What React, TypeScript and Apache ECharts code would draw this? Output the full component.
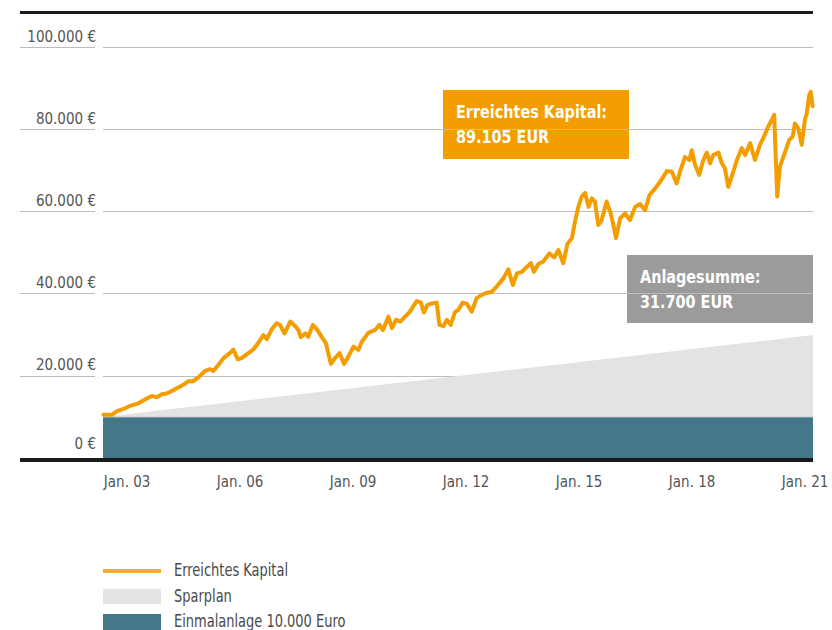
import React, { useEffect, useRef } from "react";
import * as echarts from "echarts";

const FONT = '"DejaVu Sans Condensed", "DejaVu Sans", sans-serif';

const startYear = 2002.36;
const endYear = 2021.21;
const tickYears = [2003, 2006, 2009, 2012, 2015, 2018, 2021];

const kapitalDates = [
  2002.37, 2002.59, 2002.73, 2002.95, 2003.08, 2003.3, 2003.57, 2003.66, 2003.79, 2003.92,
  2004.05, 2004.27, 2004.49, 2004.63, 2004.76, 2004.89, 2005.07, 2005.2, 2005.29, 2005.42,
  2005.56, 2005.73, 2005.82, 2005.94, 2006.04, 2006.22, 2006.35, 2006.49, 2006.62, 2006.71,
  2006.84, 2006.97, 2007.06, 2007.18, 2007.33, 2007.46, 2007.55, 2007.61, 2007.73, 2007.81,
  2007.93, 2008.04, 2008.17, 2008.28, 2008.34, 2008.41, 2008.52, 2008.64, 2008.76, 2008.87,
  2009.01, 2009.14, 2009.23, 2009.41, 2009.58, 2009.7, 2009.79, 2009.94, 2010.03, 2010.14,
  2010.25, 2010.38, 2010.51, 2010.69, 2010.8, 2010.88, 2010.97, 2011.09, 2011.22, 2011.29,
  2011.4, 2011.49, 2011.59, 2011.71, 2011.79, 2011.91, 2012.02, 2012.15, 2012.28, 2012.42,
  2012.55, 2012.68, 2012.81, 2012.99, 2013.12, 2013.24, 2013.35, 2013.48, 2013.61, 2013.72,
  2013.8, 2013.92, 2014.05, 2014.21, 2014.34, 2014.45, 2014.58, 2014.69, 2014.81, 2014.89,
  2014.98, 2015.07, 2015.16, 2015.25, 2015.34, 2015.42, 2015.51, 2015.6, 2015.73, 2015.84,
  2015.91, 2015.98, 2016.09, 2016.22, 2016.35, 2016.49, 2016.62, 2016.75, 2016.87, 2017.02,
  2017.15, 2017.33, 2017.46, 2017.59, 2017.68, 2017.81, 2017.93, 2017.99, 2018.08, 2018.19,
  2018.3, 2018.39, 2018.48, 2018.56, 2018.7, 2018.79, 2018.87, 2018.96, 2019.05, 2019.19,
  2019.32, 2019.41, 2019.54, 2019.67, 2019.8, 2019.89, 2020.02, 2020.11, 2020.18, 2020.23,
  2020.26, 2020.33, 2020.47, 2020.58, 2020.67, 2020.73, 2020.82, 2020.91, 2021.0, 2021.04,
  2021.11, 2021.15, 2021.2,
];

const kapitalValues = [
  10500, 10500, 11400, 12100, 12700, 13300, 14700, 15100, 14800, 15500,
  15700, 16700, 17800, 18700, 18700, 19600, 21200, 21600, 21200, 22600,
  24300, 25500, 26400, 24000, 24300, 25500, 26400, 28100, 29900, 28900,
  31300, 32800, 32400, 30300, 33200, 32100, 31100, 29400, 30300, 29500,
  32400, 31300, 29400, 27900, 25500, 22900, 24300, 25500, 22900, 24600,
  27100, 26300, 28300, 30500, 31100, 32400, 31100, 34400, 31600, 33600,
  33200, 34400, 35600, 38200, 37800, 35400, 37200, 37600, 37800, 32400,
  32100, 33600, 32400, 35600, 36000, 37800, 37500, 35600, 38900, 39700,
  40200, 40400, 41700, 43700, 45900, 42100, 44900, 45300, 46500, 47400,
  45300, 47200, 47800, 49800, 48800, 50600, 47400, 52100, 53500, 57500,
  61100, 63600, 64500, 61100, 63200, 62400, 56700, 57900, 62400, 59500,
  56700, 53500, 58300, 59500, 57900, 61100, 61800, 60300, 64000, 65600,
  67200, 69800, 69700, 66800, 69700, 73200, 72500, 74900, 71300, 68900,
  72500, 74300, 71700, 73700, 74300, 71700, 70500, 66000, 68400, 72500,
  75400, 73700, 76600, 72500, 76200, 77800, 80600, 82200, 83500, 70900,
  63600, 70900, 74500, 77400, 78200, 81400, 80200, 76200, 82600, 83500,
  88300, 89100, 85600,
];

const sparplanDates = [startYear, endYear];
const sparplanTotal = [10000, 29900];
const einmalanlageDates = [startYear, endYear];
const einmalanlageValues = [10000, 10000];

const legendLabels = ["Erreichtes Kapital", "Sparplan", "Einmalanlage 10.000 Euro"];
const kapitalBox = ["Erreichtes Kapital:", "89.105 EUR"];
const anlageBox = ["Anlagesumme:", "31.700 EUR"];

const ORANGE = "#f49d00";
const TEAL = "#447789";
const LIGHT = "#e3e3e3";
const GRID = "#bdbdbd";

const fmtEuro = (v: number) =>
  String(v).replace(/\B(?=(\d{3})+(?!\d))/g, ".") + " €";

export default function App() {
  const ref = useRef<HTMLDivElement>(null);

  useEffect(() => {
    document.body.style.margin = "0";
    if (!ref.current) return;
    const chart = echarts.init(ref.current, undefined, { renderer: "svg" });

    const zip = (xs: number[], ys: number[]) => xs.map((x, i) => [x, ys[i]]);

    const boxText = (text: string, x: number, y: number) => ({
      type: "text",
      x,
      y,
      scaleX: 0.89,
      style: { text, fill: "#ffffff", font: `bold 18px ${FONT}`, verticalAlign: "middle" },
    });
    const legendText = (text: string, y: number) => ({
      type: "text",
      x: 174,
      y,
      scaleX: 0.85,
      style: { text, fill: "#4a4a4a", font: `17px ${FONT}`, verticalAlign: "middle" },
    });

    chart.setOption({
      animation: false,
      backgroundColor: "#ffffff",
      textStyle: { fontFamily: FONT },
      grid: [
        { left: 103, right: 19, top: 47, bottom: 172 },
        { left: 20, width: 75, top: 47, bottom: 172 },
      ],
      xAxis: [
        {
          type: "value",
          gridIndex: 0,
          min: startYear,
          max: endYear,
          axisLine: { show: false },
          axisTick: { show: false },
          splitLine: { show: false },
          axisLabel: {
            customValues: tickYears,
            formatter: (v: number) => "Jan. " + String(Math.round(v) % 100).padStart(2, "0"),
            color: "#555555",
            fontSize: 15,
            fontFamily: FONT,
            margin: 16,
          },
        },
        {
          type: "value",
          gridIndex: 1,
          min: 0,
          max: 1,
          show: false,
        },
      ],
      yAxis: [
        {
          type: "value",
          gridIndex: 0,
          min: 0,
          max: 100000,
          interval: 20000,
          axisLine: { show: false },
          axisTick: { show: false },
          splitLine: { lineStyle: { color: GRID, width: 1 } },
          axisLabel: {
            formatter: (v: number) => (v === 0 ? "{z|" + fmtEuro(v) + "}" : fmtEuro(v)),
            color: "#555555",
            fontSize: 15,
            fontFamily: FONT,
            margin: 7,
            verticalAlign: "bottom",
            lineHeight: 21,
            rich: {
              z: {
                color: "#555555",
                fontSize: 15,
                fontFamily: FONT,
                lineHeight: 29,
              },
            },
          },
        },
        {
          type: "value",
          gridIndex: 1,
          min: 0,
          max: 100000,
          interval: 20000,
          axisLine: { show: false },
          axisTick: { show: false },
          axisLabel: { show: false },
          splitLine: { lineStyle: { color: GRID, width: 1 } },
        },
      ],
      series: [
        {
          name: "Sparplan",
          type: "line",
          xAxisIndex: 0,
          yAxisIndex: 0,
          data: zip(sparplanDates, sparplanTotal),
          symbol: "none",
          lineStyle: { width: 0 },
          areaStyle: { color: LIGHT, opacity: 1 },
          z: 2,
        },
        {
          name: "Einmalanlage 10.000 Euro",
          type: "line",
          xAxisIndex: 0,
          yAxisIndex: 0,
          data: zip(einmalanlageDates, einmalanlageValues),
          symbol: "none",
          lineStyle: { width: 1, color: "#d0d0d0" },
          areaStyle: { color: TEAL, opacity: 1 },
          z: 3,
        },
        {
          name: "Erreichtes Kapital",
          type: "line",
          xAxisIndex: 0,
          yAxisIndex: 0,
          data: zip(kapitalDates, kapitalValues),
          symbol: "none",
          lineStyle: { width: 4, color: ORANGE, join: "round", cap: "round" },
          z: 4,
        },
        {
          type: "line",
          xAxisIndex: 1,
          yAxisIndex: 1,
          data: [],
        },
      ],
      graphic: [
        { type: "rect", shape: { x: 20, y: 11, width: 793, height: 3 }, style: { fill: "#1a1a1a" }, z: 10 },
        { type: "rect", shape: { x: 20, y: 458, width: 793, height: 4 }, style: { fill: "#1a1a1a" }, z: 10 },
        {
          type: "group",
          z: 20,
          children: [
            { type: "rect", shape: { x: 443, y: 90, width: 186, height: 69 }, style: { fill: ORANGE } },
            boxText(kapitalBox[0], 456, 112),
            boxText(kapitalBox[1], 456, 137),
          ],
        },
        {
          type: "group",
          z: 20,
          children: [
            { type: "rect", shape: { x: 627, y: 255, width: 186, height: 68 }, style: { fill: "#9b9b9b" } },
            boxText(anlageBox[0], 640, 277),
            boxText(anlageBox[1], 640, 302),
          ],
        },
        {
          type: "group",
          z: 20,
          children: [
            { type: "rect", shape: { x: 103, y: 569, width: 58, height: 4 }, style: { fill: "#f7ad33" } },
            legendText(legendLabels[0], 570),
            { type: "rect", shape: { x: 103, y: 589, width: 58, height: 15 }, style: { fill: LIGHT } },
            legendText(legendLabels[1], 596),
            { type: "rect", shape: { x: 103, y: 614, width: 58, height: 16 }, style: { fill: TEAL } },
            legendText(legendLabels[2], 621),
          ],
        },
      ],
    });

    return () => chart.dispose();
  }, []);

  return <div ref={ref} style={{ width: 832, height: 630 }} />;
}
